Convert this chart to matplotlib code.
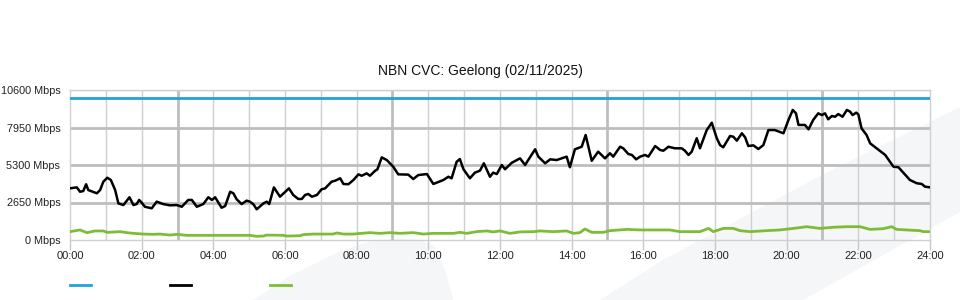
import numpy as np
import matplotlib
matplotlib.use("Agg")
import matplotlib.pyplot as plt
from matplotlib.patches import Polygon
from matplotlib.lines import Line2D

plt.rcParams['font.family'] = ['Liberation Sans', 'DejaVu Sans']

title = "NBN CVC: Geelong (02/11/2025)"

# capacity (blue)
cap_hours = [0, 24]
cap_mbps = [10030, 10030]

# traffic in (black), hours / Mbps
in_hours = [0.00, 0.19, 0.28, 0.37, 0.45, 0.51, 0.75, 0.84, 0.93, 1.04, 1.14, 1.26,
            1.35, 1.49, 1.66, 1.77, 1.86, 1.93, 2.00, 2.09, 2.28, 2.42, 2.60, 2.79,
            2.98, 3.12, 3.30, 3.40, 3.54, 3.72, 3.86, 3.96, 4.05, 4.23, 4.33, 4.47,
            4.56, 4.65, 4.79, 4.93, 5.02, 5.12, 5.21, 5.40, 5.49, 5.56, 5.69, 5.86,
            6.11, 6.23, 6.37, 6.47, 6.56, 6.65, 6.75, 6.89, 7.02, 7.12, 7.30, 7.40,
            7.54, 7.63, 7.77, 7.91, 8.05, 8.14, 8.28, 8.37, 8.51, 8.58, 8.70, 8.84,
            9.02, 9.16, 9.44, 9.58, 9.72, 9.96, 10.14, 10.42, 10.56, 10.65, 10.79, 10.88,
            10.98, 11.16, 11.30, 11.44, 11.55, 11.72, 11.81, 11.91, 12.05, 12.14, 12.33, 12.56,
            12.70, 12.98, 13.07, 13.26, 13.40, 13.58, 13.86, 13.95, 14.09, 14.28, 14.39, 14.56,
            14.74, 14.93, 15.07, 15.16, 15.35, 15.44, 15.58, 15.68, 15.80, 15.91, 16.05, 16.14,
            16.33, 16.47, 16.56, 16.70, 16.88, 17.07, 17.16, 17.26, 17.35, 17.49, 17.58, 17.77,
            17.91, 18.05, 18.14, 18.23, 18.42, 18.51, 18.61, 18.75, 18.84, 18.93, 19.07, 19.21,
            19.35, 19.49, 19.67, 19.91, 20.05, 20.17, 20.26, 20.33, 20.51, 20.61, 20.74, 20.88,
            20.98, 21.07, 21.16, 21.26, 21.35, 21.44, 21.56, 21.68, 21.77, 21.84, 21.94, 22.00,
            22.09, 22.23, 22.33, 22.51, 22.75, 22.98, 23.12, 23.44, 23.63, 23.77, 23.86, 24.00]
in_mbps = [3650, 3720, 3410, 3460, 3940, 3530, 3300, 3530, 4120, 4400, 4240, 3530,
           2590, 2470, 3020, 2470, 2540, 2830, 2640, 2350, 2240, 2710, 2540, 2450,
           2470, 2350, 2830, 2830, 2350, 2540, 3020, 2830, 3020, 2280, 2400, 3410,
           3300, 2880, 2540, 2780, 2710, 2520, 2170, 2590, 2710, 2540, 3720, 3060,
           3650, 3180, 2900, 2900, 3180, 3250, 3060, 3180, 3580, 3650, 4120, 4190,
           4360, 3960, 3940, 4240, 4640, 4540, 4710, 4540, 4880, 5000, 5840, 5650,
           5180, 4640, 4620, 4310, 4590, 4660, 3960, 4240, 4470, 4360, 5530, 5720,
           5000, 4360, 4760, 4900, 5420, 4470, 4760, 4660, 5300, 5000, 5460, 5770,
           5300, 6410, 5890, 5420, 5700, 5650, 5890, 5140, 6410, 6590, 7420, 5600,
           6240, 5770, 6130, 5890, 6590, 6480, 6080, 6010, 5700, 5890, 6010, 5890,
           6640, 6360, 6310, 6590, 6480, 6480, 6310, 6010, 6240, 7190, 6480, 7770,
           8290, 7190, 6710, 6550, 7350, 7300, 7020, 7540, 7260, 6640, 6690, 6430,
           6710, 7770, 7770, 7540, 8480, 9190, 8950, 8130, 8130, 7820, 8480, 8950,
           8830, 8950, 8530, 8760, 8710, 8900, 8710, 9190, 9070, 8830, 9000, 8880,
           7890, 7420, 6830, 6480, 6010, 5180, 5140, 4240, 4010, 3960, 3770, 3720]

# traffic out (green), hours / Mbps
out_hours = [0.00, 0.28, 0.47, 0.70, 0.93, 1.04, 1.40, 1.58, 1.77, 2.05, 2.33, 2.51,
             2.79, 2.98, 3.26, 4.00, 5.02, 5.21, 5.40, 5.49, 5.95, 6.05, 6.42, 6.51,
             6.79, 7.35, 7.44, 7.63, 7.90, 8.37, 8.65, 8.93, 9.21, 9.58, 9.86, 10.14,
             10.70, 10.88, 11.07, 11.35, 11.63, 11.81, 12.00, 12.28, 12.56, 12.93, 13.12, 13.49,
             13.86, 14.05, 14.23, 14.37, 14.56, 14.88, 15.07, 15.54, 15.91, 16.47, 16.74, 17.02,
             17.58, 17.82, 17.95, 18.23, 18.51, 18.70, 18.98, 19.44, 19.81, 20.19, 20.56, 20.93,
             21.30, 21.67, 22.05, 22.33, 22.70, 22.93, 23.07, 23.35, 23.72, 23.81, 24.00]
out_mbps = [590, 710, 520, 640, 640, 540, 590, 520, 470, 420, 400, 420,
            350, 400, 330, 330, 330, 260, 280, 350, 330, 280, 300, 380,
            420, 420, 500, 420, 420, 520, 470, 520, 470, 520, 420, 470,
            470, 540, 470, 590, 640, 570, 640, 470, 570, 590, 640, 590,
            640, 470, 520, 780, 540, 540, 660, 750, 710, 710, 710, 590,
            590, 820, 590, 820, 820, 660, 590, 660, 710, 820, 940, 820,
            900, 940, 940, 750, 800, 940, 750, 710, 660, 590, 590]

yticks = [0, 2650, 5300, 7950, 10600]
xticks = list(range(0, 25, 2))

fig = plt.figure(figsize=(9.6, 3.0), dpi=100)

# faint background watermark
wm = "#f5f6f8"
hump = [(253, 300), (290, 276), (340, 251), (372, 241), (400, 238), (420, 240),
        (434, 246), (446, 272), (453, 300)]
band = [(600, 300), (663, 260), (820, 176), (960, 107), (960, 212), (910, 240), (803, 300)]
for shape in (hump, band):
    fig.patches.append(Polygon([(x / 960, 1 - y / 300) for x, y in shape], closed=True,
                               transform=fig.transFigure, facecolor=wm, edgecolor='none',
                               zorder=-5))

ax = fig.add_axes([70 / 960, 0.2, 860 / 960, 0.5])
ax.patch.set_alpha(0)
ax.set_zorder(1)

# grid
for h in range(1, 24):
    if h % 6 == 3:
        ax.axvline(h, color="#bdbdbd", lw=2, zorder=1)
    else:
        ax.axvline(h, color="#cfcfcf", lw=1, zorder=1)
for v in yticks[1:-1]:
    ax.axhline(v, color="#bdbdbd", lw=2, zorder=1)
ax.axhline(yticks[-1], color="#d6d6d6", lw=1, zorder=1)

ax.plot(cap_hours, cap_mbps, color="#1fa3de", lw=2, zorder=3)
ax.plot(in_hours, in_mbps, color="#000000", lw=1.8, zorder=4, solid_joinstyle='round')
ax.plot(out_hours, out_mbps, color="#7dbd35", lw=2, zorder=3)

ax.set_xlim(0, 24)
ax.set_ylim(0, 10600)
ax.set_xticks(xticks)
ax.set_xticklabels([f"{h:02d}:00" for h in xticks])
ax.set_yticks(yticks)
ax.set_yticklabels([f"{v} Mbps" for v in yticks])
ax.tick_params(axis='x', length=7, width=1, color="#c8c8c8", labelsize=8, pad=1,
               labelcolor="#222222")
ax.tick_params(axis='y', length=0, labelsize=7.8, pad=7, labelcolor="#222222")
for s in ax.spines.values():
    s.set_color("#d0d0d0")
    s.set_linewidth(1)

fig.text(0.5, 1 - 71 / 300, title, ha='center', va='center', fontsize=10, color="#111111")

# legend keys (no labels)
for x0, c in ((70, "#1fa3de"), (170, "#000000"), (270, "#7dbd35")):
    fig.lines.append(Line2D([x0 / 960, (x0 + 21) / 960], [1 - 285 / 300] * 2,
                            transform=fig.transFigure, color=c, lw=2))

fig.savefig("out.png", dpi=100)
